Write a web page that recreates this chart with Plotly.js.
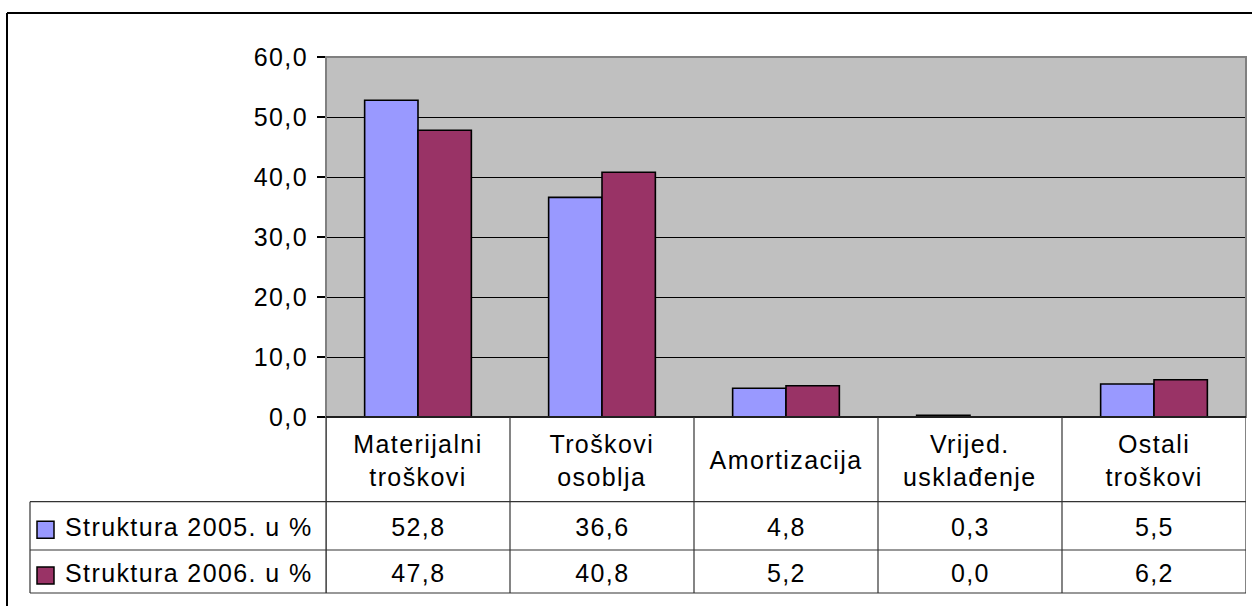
<!DOCTYPE html>
<html>
<head>
<meta charset="utf-8">
<script src="https://cdn.plot.ly/plotly-3.0.1.min.js"></script>
<style>
  html, body { margin: 0; padding: 0; background: #ffffff; }
  #chart { width: 1252px; height: 606px; }
  .main-svg text { letter-spacing: 1.4px; }
</style>
</head>
<body>
<div id="chart"></div>
<script>
// ---- data ----
const categories = ["Materijalni<br>troškovi", "Troškovi<br>osoblja", "Amortizacija", "Vrijed.<br>usklađenje", "Ostali<br>troškovi"];
const seriesNames = ["Struktura 2005. u %", "Struktura 2006. u %"];
const values2005 = [52.8, 36.6, 4.8, 0.3, 5.5];
const values2006 = [47.8, 40.8, 5.2, 0.0, 6.2];
const yTicks = [0, 10, 20, 30, 40, 50, 60];

// ---- style ----
const colors = ["#9999FF", "#993366"];
const FONT = "Liberation Sans, Arial, sans-serif";
const FS = 25;
const W = 1252, H = 606;
const M = { l: 326, r: 6, t: 57, b: 189 };
const plotH = H - M.t - M.b;   // 360
const plotW = W - M.l - M.r;   // 920
// pixel -> paper helpers (layout positions only)
const py = p => (H - M.b - p) / plotH;
const px = p => (p - M.l) / plotW;

const rowTop = 417, row1 = 501.7, row2 = 550, row3 = 593, tableLeft = 30;

const idx = categories.map((_, i) => i);
const allVals = [values2005, values2006];

const traces = allVals.map((vals, s) => ({
  type: "bar",
  name: seriesNames[s],
  x: idx,
  y: vals,
  marker: { color: colors[s], line: { color: "#000000", width: 1.6 } },
  hoverinfo: "skip",
  showlegend: false
}));

const shapes = [];
const annotations = [];
const line = (x0, y0, x1, y1, xref, color, width) =>
  shapes.push({ type: "line", xref: xref, yref: "paper", x0, y0, x1, y1,
                line: { color: color, width: width }, layer: "above" });

// plot area border (gray)
shapes.push({ type: "rect", xref: "paper", yref: "paper", x0: 0, y0: 0, x1: 1, y1: 1,
              line: { color: "#808080", width: 2 }, layer: "above" });
// x axis line
line(0, 0, 1, 0, "paper", "#000000", 1.5);

// outer chart border (top + left)
line(px(7), py(13), px(W), py(13), "paper", "#000000", 2);
line(px(7), py(13), px(7), py(H + 2), "paper", "#000000", 2);

// table horizontal lines
const tc = "#333333";
[row1, row2, row3].forEach(r => line(px(tableLeft), py(r), 1, py(r), "paper", tc, 1.2));
// table verticals
line(px(tableLeft), py(row1), px(tableLeft), py(row3), "paper", tc, 1.2);
line(0, py(rowTop), 0, py(row3), "paper", tc, 1.2);
for (let i = 0; i <= categories.length; i++) {
  line(i - 0.5, py(rowTop), i - 0.5, py(row3), "x", tc, 1.2);
}

// category labels
categories.forEach((c, i) => annotations.push({
  x: i, xref: "x", y: py((rowTop + row1) / 2 + 1), yref: "paper",
  text: c, showarrow: false, xanchor: "center", yanchor: "middle",
  font: { family: FONT, size: FS, color: "#000" }
}));

// data values + legend keys
const fmt = v => v.toFixed(1).replace(".", ",");
const rowCenters = [(row1 + row2) / 2, (row2 + row3) / 2];
allVals.forEach((vals, s) => {
  vals.forEach((v, i) => annotations.push({
    x: i, xref: "x", y: py(rowCenters[s] + 1), yref: "paper",
    text: fmt(v), showarrow: false, xanchor: "center", yanchor: "middle",
    font: { family: FONT, size: FS, color: "#000" }
  }));
  annotations.push({
    x: px(63), xref: "paper", y: py(rowCenters[s] + 1), yref: "paper",
    text: seriesNames[s], showarrow: false, xanchor: "left", yanchor: "middle",
    align: "left",
    font: { family: FONT, size: FS, color: "#000" }
  });
  const c = rowCenters[s] + 4;
  shapes.push({ type: "rect", xref: "paper", yref: "paper",
    x0: px(37), x1: px(54), y0: py(c - 8.5), y1: py(c + 8.5),
    fillcolor: colors[s], line: { color: "#000", width: 1.5 }, layer: "above" });
});

const layout = {
  width: W, height: H,
  margin: M,
  paper_bgcolor: "#ffffff",
  plot_bgcolor: "#C0C0C0",
  barmode: "group",
  bargap: 0.42,
  bargroupgap: 0,
  separators: ",.",
  font: { family: FONT, size: FS, color: "#000" },
  xaxis: {
    range: [-0.5, categories.length - 0.5],
    showticklabels: false, showgrid: false, zeroline: false, ticks: "",
    fixedrange: true
  },
  yaxis: {
    range: [0, 60],
    tickvals: yTicks,
    tickformat: ".1f",
    ticks: "outside", ticklen: 8, tickcolor: "#000", tickwidth: 1.2,
    showgrid: true, gridcolor: "#000000", gridwidth: 1,
    zeroline: false, showline: false,
    ticklabelstandoff: 4,
    tickfont: { family: FONT, size: FS, color: "#000" },
    fixedrange: true
  },
  shapes: shapes,
  annotations: annotations
};

Plotly.newPlot("chart", traces, layout, { staticPlot: true, displayModeBar: false });
</script>
</body>
</html>
